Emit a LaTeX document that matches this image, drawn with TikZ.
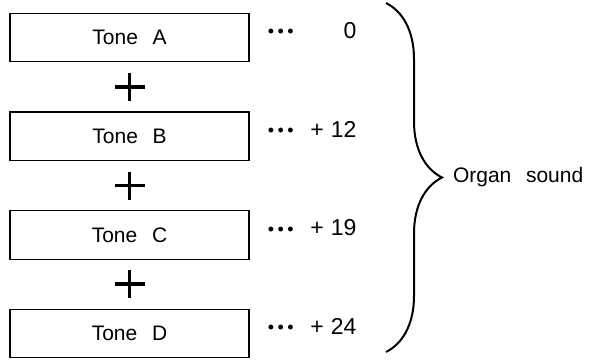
\documentclass[tikz,border=0pt]{standalone}
\usepackage{fontspec}
\setmainfont{Liberation Sans}
\usepackage{tikz}
\usetikzlibrary{positioning,decorations.pathreplacing}
\newcommand{\wsp}{\hspace{0.7em}}
\newcommand{\lead}{\textbullet\hspace{3.5pt}\textbullet\hspace{3.5pt}\textbullet}
\tikzset{
  tonebox/.style={draw,line width=1.2pt,minimum width=239pt,minimum height=48.5pt,
            inner sep=0pt,font=\fontsize{21}{25}\selectfont},
  plussign/.style={minimum width=30pt,minimum height=28pt,inner sep=0pt,outer sep=0pt},
  plusbar/.style={line width=3.6pt},
  dotlabel/.style={inner sep=0pt,font=\fontsize{18}{20}\selectfont},
  numlabel/.style={inner sep=0pt,font=\fontsize{23}{27}\selectfont},
  sumbrace/.style={decorate,decoration={brace,amplitude=56pt},line width=2pt},
  sumlabel/.style={inner sep=0pt,font=\fontsize{21}{25}\selectfont},
}

\begin{document}
\begin{tikzpicture}[x=1pt,y=1pt]
  \useasboundingbox (0,0) rectangle (592,360);
  % the four tones, summed
  \node[tonebox] (tonea) at (129.5,322.5) {Tone\wsp A};
  \node[plussign,below=10.5pt of tonea] (plusab) {};
  \node[tonebox,below=10.5pt of plusab] (toneb) {Tone\wsp B};
  \node[plussign,below=10.5pt of toneb] (plusbc) {};
  \node[tonebox,below=10.5pt of plusbc] (tonec) {Tone\wsp C};
  \node[plussign,below=10.5pt of tonec] (pluscd) {};
  \node[tonebox,below=10.5pt of pluscd] (toned) {Tone\wsp D};
  \foreach \p in {plusab,plusbc,pluscd}
    \draw[plusbar] (\p.north) -- (\p.south) (\p.west) -- (\p.east);
  % pitch offsets
  \node[dotlabel,right=18pt of tonea.east,yshift=4pt] (dotsa) {\lead};
  \node[numlabel,right=107pt of tonea.east,anchor=east,yshift=7pt] (numa) {0};
  \node[dotlabel,right=18pt of toneb.east,yshift=4pt] (dotsb) {\lead};
  \node[numlabel,right=107pt of toneb.east,anchor=east,yshift=7pt] (numb) {+\hspace{0.3em}12};
  \node[dotlabel,right=18pt of tonec.east,yshift=4pt] (dotsc) {\lead};
  \node[numlabel,right=107pt of tonec.east,anchor=east,yshift=7pt] (numc) {+\hspace{0.3em}19};
  \node[dotlabel,right=18pt of toned.east,yshift=4pt] (dotsd) {\lead};
  \node[numlabel,right=107pt of toned.east,anchor=east,yshift=7pt] (numd) {+\hspace{0.3em}24};
  % brace
  \coordinate (bracetop) at (386,357);
  \coordinate (bracebot) at (386,8);
  \draw[sumbrace] (bracetop) -- node[sumlabel,midway,right=66pt] (organ) {Organ\wsp sound} (bracebot);
\end{tikzpicture}
\end{document}
